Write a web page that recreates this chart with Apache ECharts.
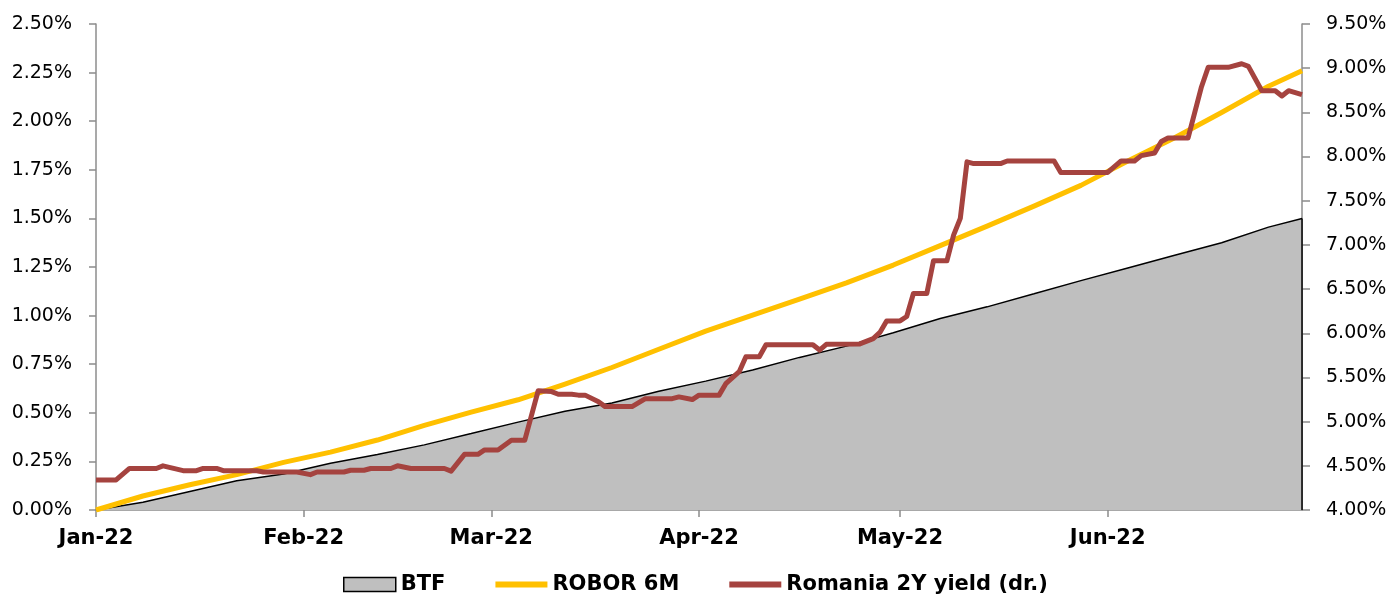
<!DOCTYPE html>
<html>
<head>
<meta charset="utf-8">
<script src="https://cdn.jsdelivr.net/npm/echarts@6/dist/echarts.min.js"></script>
<style>
html,body{margin:0;padding:0;background:#fff;}
#chart{width:1391px;height:598px;}
</style>
</head>
<body>
<div id="chart"></div>
<script>
// ---- Data ----
const weeklyDates = ['2022-01-01','2022-01-08','2022-01-15','2022-01-22','2022-01-29','2022-02-05','2022-02-12','2022-02-19','2022-02-26','2022-03-05','2022-03-12','2022-03-19','2022-03-26','2022-04-02','2022-04-09','2022-04-16','2022-04-23','2022-04-30','2022-05-07','2022-05-14','2022-05-21','2022-05-28','2022-06-04','2022-06-11','2022-06-18','2022-06-25','2022-06-30'];
const btfValues = [0.00,0.04,0.095,0.15,0.185,0.24,0.285,0.335,0.393,0.452,0.508,0.55,0.611,0.663,0.72,0.785,0.843,0.912,0.985,1.045,1.112,1.18,1.245,1.31,1.375,1.455,1.50];
const roborValues = [0.00,0.072,0.13,0.182,0.245,0.298,0.36,0.435,0.503,0.567,0.648,0.733,0.827,0.92,1.002,1.085,1.168,1.26,1.36,1.46,1.563,1.67,1.795,1.915,2.045,2.18,2.26];

const yieldDates = ['2022-01-01','2022-01-04','2022-01-06','2022-01-10','2022-01-11','2022-01-14','2022-01-16','2022-01-17','2022-01-19','2022-01-20','2022-01-25','2022-01-26','2022-01-31','2022-02-02','2022-02-03','2022-02-07','2022-02-08','2022-02-10','2022-02-11','2022-02-14','2022-02-15','2022-02-17','2022-02-22','2022-02-23','2022-02-25','2022-02-27','2022-02-28','2022-03-02','2022-03-04','2022-03-06','2022-03-08','2022-03-10','2022-03-11','2022-03-13','2022-03-14','2022-03-15','2022-03-17','2022-03-18','2022-03-22','2022-03-24','2022-03-28','2022-03-29','2022-03-31','2022-04-01','2022-04-04','2022-04-05','2022-04-07','2022-04-08','2022-04-10','2022-04-11','2022-04-18','2022-04-19','2022-04-20','2022-04-25','2022-04-27','2022-04-28','2022-04-29','2022-05-01','2022-05-02','2022-05-03','2022-05-05','2022-05-06','2022-05-08','2022-05-09','2022-05-10','2022-05-11','2022-05-12','2022-05-16','2022-05-17','2022-05-24','2022-05-25','2022-06-01','2022-06-03','2022-06-05','2022-06-06','2022-06-08','2022-06-09','2022-06-10','2022-06-13','2022-06-15','2022-06-16','2022-06-19','2022-06-21','2022-06-22','2022-06-24','2022-06-26','2022-06-27','2022-06-28','2022-06-30'];
const yieldValues = [4.34,4.34,4.47,4.47,4.50,4.445,4.445,4.47,4.47,4.445,4.445,4.43,4.43,4.40,4.43,4.43,4.45,4.45,4.47,4.47,4.50,4.47,4.47,4.44,4.63,4.63,4.68,4.68,4.79,4.79,5.35,5.34,5.31,5.31,5.30,5.30,5.225,5.17,5.17,5.26,5.26,5.28,5.25,5.30,5.30,5.43,5.565,5.735,5.735,5.87,5.87,5.81,5.875,5.88,5.94,6.01,6.14,6.14,6.19,6.45,6.45,6.82,6.82,7.11,7.30,7.94,7.92,7.92,7.95,7.95,7.82,7.82,7.95,7.95,8.01,8.04,8.17,8.21,8.21,8.79,9.01,9.01,9.05,9.02,8.745,8.745,8.685,8.745,8.70];

const monthTickDates = ['2022-01-01','2022-02-01','2022-03-01','2022-04-01','2022-05-01','2022-06-01'];
const monthTickLabels = ['Jan-22','Feb-22','Mar-22','Apr-22','May-22','Jun-22'];
const xStart = '2022-01-01';
const xEnd = '2022-06-30';
const seriesNames = ['BTF','ROBOR 6M','Romania 2Y yield (dr.)'];

// ---- Build chart ----
const t = s => Date.parse(s);
const pair = (dates, vals) => dates.map((d, i) => [t(d), vals[i]]);
const tickVals = monthTickDates.map(t);
const labelFor = v => { const i = tickVals.indexOf(v); return i >= 0 ? monthTickLabels[i] : ''; };

const FONT = 'DejaVu Sans';
const chart = echarts.init(document.getElementById('chart'), null, {renderer:'canvas'});
const lastBtfDate = t(weeklyDates[weeklyDates.length-1]);
const lastBtfVal = btfValues[btfValues.length-1];

chart.setOption({
  animation: false,
  backgroundColor: '#ffffff',
  grid: {left: 96, right: 89, top: 24, bottom: 88, containLabel: false},
  legend: {
    left: 343, top: 574, padding: 0,
    itemWidth: 52, itemHeight: 14, itemGap: 50,
    symbolKeepAspect: true,
    textStyle: {fontFamily: FONT, fontSize: 21, fontWeight: 'bold', color: '#000'},
    data: [
      {name: seriesNames[0], icon: 'rect', itemStyle: {color: '#BFBFBF', borderColor: '#000', borderWidth: 1.5}},
      {name: seriesNames[1], icon: 'path://M0,0H52V6H0Z', itemStyle: {color: '#FFC000', borderWidth: 0}},
      {name: seriesNames[2], icon: 'path://M0,0H52V6H0Z', itemStyle: {color: '#A5433F', borderWidth: 0}}
    ]
  },
  xAxis: {
    type: 'value',
    min: t(xStart), max: t(xEnd),
    splitLine: {show: false},
    axisLine: {show: true, lineStyle: {color: '#8C8C8C', width: 1.5}},
    axisTick: {show: true, customValues: tickVals, length: 7, lineStyle: {color: '#8C8C8C', width: 1.5}},
    axisLabel: {customValues: tickVals, formatter: labelFor, margin: 18,
      fontFamily: FONT, fontSize: 21, fontWeight: 'bold', color: '#000'}
  },
  yAxis: [
    {
      type: 'value', min: 0, max: 2.5, interval: 0.25, position: 'left',
      splitLine: {show: false},
      axisLine: {show: true, lineStyle: {color: '#8C8C8C', width: 1.5}},
      axisTick: {show: true, length: 7, lineStyle: {color: '#8C8C8C', width: 1.5}},
      axisLabel: {formatter: v => v.toFixed(2) + '%', margin: 24,
        fontFamily: FONT, fontSize: 19, color: '#000'}
    },
    {
      type: 'value', min: 4, max: 9.5, interval: 0.5, position: 'right',
      splitLine: {show: false},
      axisLine: {show: true, lineStyle: {color: '#8C8C8C', width: 1.5}},
      axisTick: {show: true, length: 8, lineStyle: {color: '#8C8C8C', width: 1.5}},
      axisLabel: {formatter: v => v.toFixed(2) + '%', margin: 24,
        fontFamily: FONT, fontSize: 19, color: '#000'}
    }
  ],
  series: [
    {
      name: seriesNames[0], type: 'line', yAxisIndex: 0,
      data: pair(weeklyDates, btfValues),
      symbol: 'none', showSymbol: false, z: 1,
      lineStyle: {color: '#000', width: 1.5},
      itemStyle: {color: '#BFBFBF'},
      areaStyle: {color: '#BFBFBF', opacity: 1},
      markLine: {
        silent: true, symbol: 'none', label: {show: false},
        lineStyle: {color: '#000', width: 1.5, type: 'solid'},
        data: [[{coord: [lastBtfDate, 0]}, {coord: [lastBtfDate, lastBtfVal]}]]
      }
    },
    {
      name: seriesNames[1], type: 'line', yAxisIndex: 0,
      data: pair(weeklyDates, roborValues),
      symbol: 'none', showSymbol: false, z: 2,
      lineStyle: {color: '#FFC000', width: 5, join: 'round'},
      itemStyle: {color: '#FFC000'}
    },
    {
      name: seriesNames[2], type: 'line', yAxisIndex: 1,
      data: pair(yieldDates, yieldValues),
      symbol: 'none', showSymbol: false, z: 3,
      lineStyle: {color: '#A5433F', width: 5, join: 'round'},
      itemStyle: {color: '#A5433F'}
    }
  ]
});
</script>
</body>
</html>
